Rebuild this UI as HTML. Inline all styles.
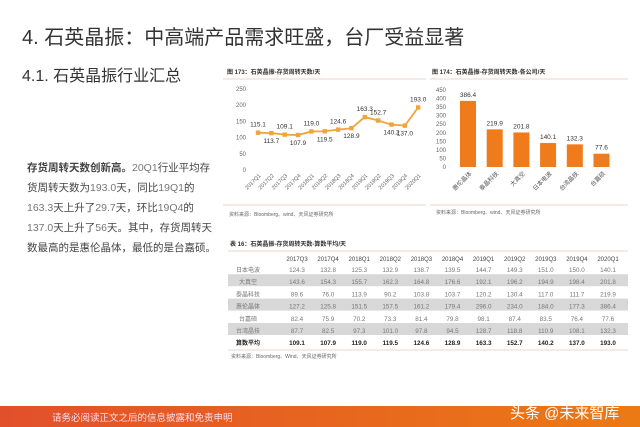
<!DOCTYPE html>
<html><head><meta charset="utf-8"><style>
html,body{margin:0;padding:0;background:#fff}
body{width:640px;height:427px;position:relative;overflow:hidden;font-family:"Liberation Sans","Noto Sans CJK SC",sans-serif}
.t{position:absolute;white-space:nowrap}
</style></head><body>
<div class="t" style="left:22px;top:21px;font-size:20px;color:#333;">4. 石英晶振：中高端产品需求旺盛，台厂受益显著</div>
<div class="t" style="left:22px;top:62px;font-size:16px;color:#333;">4.1. 石英晶振行业汇总</div>
<div class="t" style="left:27px;top:158px;font-size:10.5px;line-height:20px;color:#444;white-space:normal;width:190px;"><b>存货周转天数创新高。</b><span style="color:#777">20Q1</span>行业平均存货周转天数为<span style="color:#777">193.0</span>天，同比<span style="color:#777">19Q1</span>的<span style="color:#777">163.3</span>天上升了<span style="color:#777">29.7</span>天，环比<span style="color:#777">19Q4</span>的<span style="color:#777">137.0</span>天上升了<span style="color:#777">56</span>天。其中，存货周转天数最高的是惠伦晶体，最低的是台嘉硕。</div>
<svg id="svg" width="640" height="427" style="position:absolute;left:0;top:0" xmlns="http://www.w3.org/2000/svg" font-family="Liberation Sans, Noto Sans CJK SC, sans-serif">
<defs><linearGradient id="fg" x1="0" x2="1"><stop offset="0" stop-color="#e2502b"/><stop offset="1" stop-color="#ec7a14"/></linearGradient></defs>
<rect x="0" y="406" width="640" height="21" fill="url(#fg)"/>
<text x="52" y="421" font-size="9.5" fill="#fde">请务必阅读正文之后的信息披露和免责申明</text>
<text x="510" y="418" font-size="15" fill="#fff">头条 @未来智库</text>
<g id="c1">
<text x="227" y="74" font-size="6" fill="#333" font-weight="bold">图 173：石英晶振-存货周转天数/天</text>
<line x1="223" y1="79" x2="426" y2="79" stroke="#e8d9c8" stroke-width="1"/>
<line x1="223" y1="205" x2="426" y2="205" stroke="#e8d9c8" stroke-width="1"/>
<text x="229" y="216" font-size="5" fill="#666">资料来源：Bloomberg、wind、天风证券研究所</text>
</g>
<g id="c2">
<text x="432" y="74" font-size="6" fill="#333" font-weight="bold">图 174：石英晶振-存货周转天数-各公司/天</text>
<line x1="430" y1="79" x2="628" y2="79" stroke="#e8d9c8" stroke-width="1"/>
<line x1="430" y1="205" x2="628" y2="205" stroke="#e8d9c8" stroke-width="1"/>
<text x="436" y="214" font-size="5" fill="#666">资料来源：Bloomberg、wind、天风证券研究所</text>
</g>
<g id="tb">
<text x="230" y="246" font-size="6" fill="#333" font-weight="bold">表 16：石英晶振-存货周转天数-算数平均/天</text>
<line x1="228" y1="251" x2="628" y2="251" stroke="#e8d9c8" stroke-width="1"/>
<line x1="228" y1="350" x2="628" y2="350" stroke="#e8d9c8" stroke-width="1"/>
<text x="231" y="358" font-size="5" fill="#666">资料来源：Bloomberg、Wind、天风证券研究所</text>
</g>
</svg>
<script>
const ns="http://www.w3.org/2000/svg";
function mk(p,tag,a,txt){const e=document.createElementNS(ns,tag);for(const k in a)e.setAttribute(k,a[k]);if(txt!==undefined)e.textContent=txt;p.appendChild(e);return e;}
// line chart data
const lineCats=["2017Q1","2017Q2","2017Q3","2017Q4","2018Q1","2018Q2","2018Q3","2018Q4","2019Q1","2019Q2","2019Q3","2019Q4","2020Q1"];
const lineVals=[115.1,113.7,109.1,107.9,119.0,119.5,124.6,128.9,163.3,152.7,140.2,137.0,193.0];
const lineTicks=[0,50,100,150,200,250];
// bar chart data
const barCats=["惠伦晶体","泰晶科技","大真空","日本电波","台湾晶技","台嘉硕"];
const barVals=[386.4,219.9,201.8,140.1,132.3,77.6];
const barTicks=[0,50,100,150,200,250,300,350,400,450];
// table data
const tblCols=["2017Q3","2017Q4","2018Q1","2018Q2","2018Q3","2018Q4","2019Q1","2019Q2","2019Q3","2019Q4","2020Q1"];
const tblRows=["日本电波","大真空","泰晶科技","惠伦晶体","台嘉硕","台湾晶技","算数平均"];
const r0=[124.3,132.8,125.3,132.9,138.7,139.5,144.7,149.3,151.0,150.0,140.1];
const r1=[143.6,154.3,155.7,162.3,164.8,176.6,192.1,196.2,194.9,198.4,201.8];
const r2=[89.6,76.0,113.9,90.2,103.8,103.7,120.2,130.4,117.0,111.7,219.9];
const r3=[127.2,125.8,151.5,157.5,161.2,179.4,296.0,234.0,184.0,177.3,386.4];
const r4=[82.4,75.9,70.2,73.3,81.4,79.8,98.1,87.4,83.5,76.4,77.6];
const r5=[87.7,82.5,97.3,101.0,97.8,94.5,128.7,118.8,110.9,108.1,132.3];
const r6=[109.1,107.9,119.0,119.5,124.6,128.9,163.3,152.7,140.2,137.0,193.0];
const tblData=[r0,r1,r2,r3,r4,r5,r6];

const c1=document.getElementById('c1');
const y1=v=>170-v*81/250, x1=i=>258+i*13.35;
lineTicks.forEach(t=>{const e=mk(c1,'text',{x:246,y:y1(t)+2,'font-size':6,fill:'#666','text-anchor':'end'},t);

});
lineCats.forEach((c,i)=>{const e=mk(c1,'text',{x:x1(i)+3,y:176,'font-size':5.5,fill:'#666','text-anchor':'end',transform:`rotate(-45 ${x1(i)+3} 176)`},c);

});
const pl=mk(c1,'polyline',{points:lineVals.map((v,i)=>x1(i)+','+y1(v)).join(' '),fill:'none',stroke:'#f0a43a','stroke-width':1.8});


const above=[1,0,1,0,1,0,1,0,1,1,0,0,1];
lineVals.forEach((v,i)=>{const p=mk(c1,'rect',{x:x1(i)-2.2,y:y1(v)-2.2,width:4.4,height:4.4,fill:'#f0a43a'});


const ly=above[i]?y1(v)-6:y1(v)+10;
const l=mk(c1,'text',{x:x1(i),y:ly,'font-size':6.5,fill:'#333','text-anchor':'middle'},v.toFixed(1));

});

const c2=document.getElementById('c2');
const y2=v=>167-v*77/450, x2=i=>468+i*26.7;
barTicks.forEach(t=>{const e=mk(c2,'text',{x:446,y:y2(t)+2,'font-size':6,fill:'#666','text-anchor':'end'},t);

});
barVals.forEach((v,i)=>{const b=mk(c2,'rect',{x:x2(i)-8,y:y2(v),width:16,height:167-y2(v),fill:'#ef7b1a'});


const l=mk(c2,'text',{x:x2(i),y:y2(v)-4,'font-size':6.5,fill:'#333','text-anchor':'middle'},v.toFixed(1));


const c=mk(c2,'text',{x:x2(i)+4,y:174,'font-size':6,fill:'#555','text-anchor':'end',transform:`rotate(-45 ${x2(i)+4} 174)`},barCats[i]);

});

const tb=document.getElementById('tb');
const cx=j=>297+j*31.1, ry=r=>270+r*12.2;
tblCols.forEach((c,j)=>{const e=mk(tb,'text',{x:cx(j),y:261,'font-size':6,fill:'#444','text-anchor':'middle'},c);

});
tblRows.forEach((r,i)=>{
if(i%2===1){const bg=mk(tb,'rect',{x:228,y:ry(i)-8,width:400,height:12,fill:'#d8d8d8'});

}
const bold=i===6?'bold':'normal', col=i===6?'#222':'#777';
const n=mk(tb,'text',{x:248,y:ry(i)+2,'font-size':6,fill:col,'font-weight':bold,'text-anchor':'middle'},r);


tblData[i].forEach((v,j)=>{const e=mk(tb,'text',{x:cx(j),y:ry(i)+2,'font-size':6.3,fill:col,'font-weight':bold,'text-anchor':'middle'},v.toFixed(1));

});});
</script>
</body></html>
